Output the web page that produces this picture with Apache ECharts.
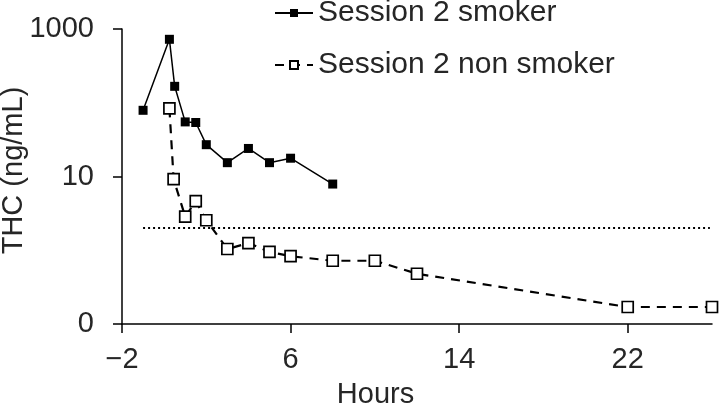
<!DOCTYPE html>
<html>
<head>
<meta charset="utf-8">
<script src="https://cdn.jsdelivr.net/npm/echarts@6/dist/echarts.min.js"></script>
<style>
html,body{margin:0;padding:0;background:#fff;}
#chart{width:720px;height:408px;}
</style>
</head>
<body>
<div id="chart"></div>
<script>
// Data
var smokerHours = [-1, 0.25, 0.5, 1, 1.5, 2, 3, 4, 5, 6, 8];
var smokerTHC   = [79, 725, 167, 55, 54, 27, 15.4, 24, 15.4, 17.7, 7.9];
var nonSmokerHours = [0.25, 0.45, 1, 1.5, 2, 3, 4, 5, 6, 8, 10, 12, 22, 26];
var nonSmokerTHC   = [84, 9.2, 2.85, 4.65, 2.55, 1.04, 1.25, 0.95, 0.83, 0.72, 0.72, 0.48, 0.17, 0.17];
var thresholdValue = 2;
var thresholdStart = -1;
var thresholdEnd = 25.9;
var xTicks = [-2, 6, 14, 22];
var yTicks = [0.1, 10, 1000];
var seriesNames = ['Session 2 smoker', 'Session 2 non smoker'];

function pairs(xs, ys) { return xs.map(function (x, i) { return [x, ys[i]]; }); }

var txt = '#262626';
var chart = echarts.init(document.getElementById('chart'), null, {renderer: 'canvas'});
chart.setOption({
  animation: false,
  backgroundColor: '#fff',
  textStyle: {fontFamily: 'Liberation Sans, Arial, sans-serif'},
  grid: {left: 122, right: 8, top: 29, bottom: 84, containLabel: false, outerBoundsMode: 'none'},
  legend: {
    orient: 'vertical', left: 274, top: -2, padding: 0,
    itemGap: 22, itemWidth: 38, itemHeight: 10,
    textStyle: {fontSize: 30, color: txt, lineHeight: 30, fontFamily: 'Liberation Sans, Arial, sans-serif'},
    data: seriesNames
  },
  xAxis: {
    type: 'value', min: -2, max: 26,
    name: 'Hours', nameLocation: 'middle', nameGap: 56, nameMoveOverlap: false,
    nameTextStyle: {fontSize: 29, color: txt, padding: [0, 83, 0, 0]},
    axisLine: {show: true, lineStyle: {color: '#000', width: 1.5}},
    axisTick: {show: true, length: 9, lineStyle: {color: '#000', width: 1.5}, customValues: xTicks},
    axisLabel: {fontSize: 29, color: txt, margin: 21, customValues: xTicks,
      formatter: function (v) { return v < 0 ? '\u2212' + Math.abs(v) : String(v); }},
    splitLine: {show: false}
  },
  yAxis: {
    type: 'log', logBase: 10, min: 0.1, max: 1000,
    name: 'THC (ng/mL)', nameLocation: 'middle', nameGap: 94, nameMoveOverlap: false,
    nameTextStyle: {fontSize: 29, color: txt, padding: [0, 0, 0, 12]},
    axisLine: {show: true, onZero: false, lineStyle: {color: '#000', width: 1.5}},
    axisTick: {show: true, length: 9, lineStyle: {color: '#000', width: 1.5}, customValues: yTicks},
    axisLabel: {fontSize: 29, color: txt, margin: 28, customValues: yTicks,
      formatter: function (v) { return v < 1 ? '0' : String(Math.round(v)); }},
    splitLine: {show: false}
  },
  series: [
    {
      name: seriesNames[0], type: 'line',
      data: pairs(smokerHours, smokerTHC),
      symbol: 'rect', symbolSize: 9,
      lineStyle: {color: '#000', width: 1.5},
      itemStyle: {color: '#000'},
      z: 3
    },
    {
      name: seriesNames[1], type: 'line',
      data: pairs(nonSmokerHours, nonSmokerTHC),
      symbol: 'rect', symbolSize: 11,
      lineStyle: {color: '#000', width: 2.2, type: [9, 7]},
      itemStyle: {color: '#fff', borderColor: '#000', borderWidth: 1.7},
      markLine: {
        silent: true, symbol: ['none', 'none'], label: {show: false},
        lineStyle: {color: '#000', width: 2, type: [2, 3]},
        data: [[{coord: [thresholdStart, thresholdValue]}, {coord: [thresholdEnd, thresholdValue]}]]
      },
      z: 2
    }
  ]
});
</script>
</body>
</html>
